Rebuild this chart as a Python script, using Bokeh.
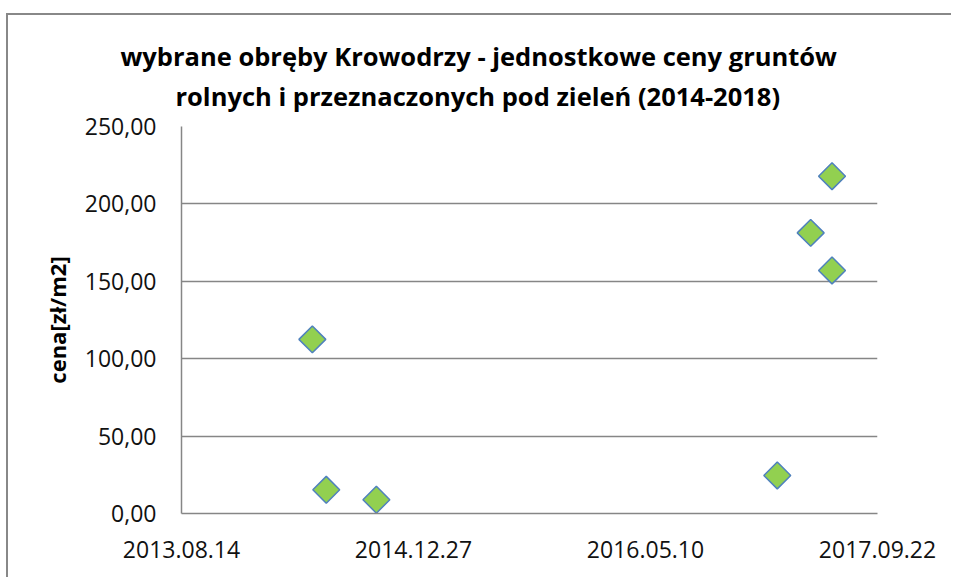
import pandas as pd
import numpy as np
from bokeh.plotting import figure
from bokeh.models import ColumnDataSource, FixedTicker, DatetimeTickFormatter, Range1d, Title
from bokeh.embed import file_html
from bokeh.resources import INLINE

# ---- data ----
dates = ["2014-05-23", "2014-06-22", "2014-10-08", "2017-02-18", "2017-05-01", "2017-06-16", "2017-06-16"]
prices = [112.5, 15.3, 8.9, 24.6, 181.3, 217.9, 157.0]

x_ticks = ["2013-08-14", "2014-12-27", "2016-05-10", "2017-09-22"]
y_ticks = [0, 50, 100, 150, 200, 250]
y_tick_labels = ["0,00", "50,00", "100,00", "150,00", "200,00", "250,00"]

title_lines = ["wybrane obręby Krowodrzy - jednostkowe ceny gruntów",
               "rolnych i przeznaczonych pod zieleń (2014-2018)"]
y_label = "cena[zł/m2]"

FONT = "Open Sans"
GRID = "#868686"

def ms(d):
    return pd.Timestamp(d).value / 1e6

src = ColumnDataSource(dict(x=[ms(d) for d in dates], y=prices))
xt = [ms(d) for d in x_ticks]

W, H = 945, 564
p = figure(width=W, height=H, output_backend="svg", toolbar_location=None,
           x_axis_type="datetime",
           x_range=Range1d(xt[0], xt[-1]), y_range=Range1d(0, 250),
           min_border_left=173, min_border_right=76, min_border_top=111, min_border_bottom=66,
           styles={"border-left": "2px solid #888888", "border-top": "2px solid #888888",
                   "margin-top": "13px", "margin-left": "6px"})
p.outline_line_color = None
p.background_fill_color = "white"
p.border_fill_color = "white"

p.xgrid.visible = False
p.ygrid.ticker = FixedTicker(ticks=y_ticks)
p.ygrid.grid_line_color = GRID
p.ygrid.grid_line_width = 1.5

p.yaxis.ticker = FixedTicker(ticks=y_ticks)
p.yaxis.major_label_overrides = {t: l for t, l in zip(y_ticks, y_tick_labels)}
p.xaxis.ticker = FixedTicker(ticks=xt)
fmt = "%Y.%m.%d"
p.xaxis.formatter = DatetimeTickFormatter(milliseconds=fmt, seconds=fmt, minsec=fmt, minutes=fmt,
                                          hourmin=fmt, hours=fmt, days=fmt, months=fmt, years=fmt)

for ax in (p.xaxis[0], p.yaxis[0]):
    ax.axis_line_color = GRID
    ax.axis_line_width = 1.5
    ax.major_tick_line_color = None
    ax.minor_tick_line_color = None
    ax.major_tick_out = 0
    ax.major_tick_in = 0
    ax.major_label_text_font = FONT
    ax.major_label_text_font_size = "23px"
    ax.major_label_text_color = "#111111"
p.yaxis.major_label_standoff = 25
p.xaxis.major_label_standoff = 27

p.yaxis.axis_label = y_label
p.yaxis.axis_label_text_font = FONT
p.yaxis.axis_label_text_font_style = "bold"
p.yaxis.axis_label_text_font_size = "22px"
p.yaxis.axis_label_text_color = "#000000"
p.yaxis.axis_label_standoff = 10

p.scatter("x", "y", source=src, marker="square", angle=np.pi / 4, size=19,
          fill_color="#92D050", line_color="#4F81BD", line_width=1.5)

# title: line closest to the frame is added first
for txt, off, so in zip(reversed(title_lines), [-6, -61], [28, -20]):
    p.add_layout(Title(text=txt, align="left", offset=off, text_font=FONT,
                       text_font_style="bold", text_font_size="25.5px", text_color="#000000",
                       standoff=so), "above")

open("out.html", "w").write(file_html(p, INLINE))
